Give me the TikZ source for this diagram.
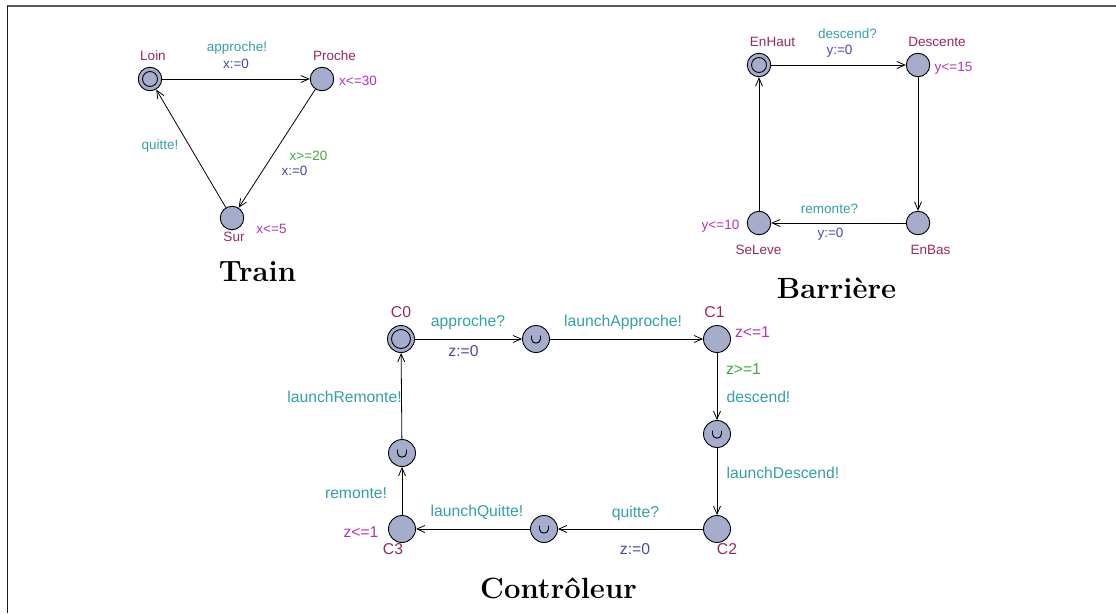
\documentclass[tikz,border=0pt]{standalone}
\usepackage{fontspec}
\setsansfont{Liberation Sans}
\usetikzlibrary{arrows.meta}
\definecolor{locfill}{RGB}{166,173,204}
\definecolor{namec}{RGB}{150,40,95}
\definecolor{syncc}{RGB}{50,160,165}
\definecolor{assc}{RGB}{70,70,180}
\definecolor{invc}{RGB}{180,50,180}
\definecolor{guardc}{RGB}{60,170,60}
\tikzset{
  locS/.style={circle, draw=black, fill=locfill, minimum size=23.5pt, inner sep=0pt, line width=0.9pt},
  locL/.style={locS, minimum size=27pt},
  trans/.style={draw=black, line width=0.8pt, -{Straight Barb[length=8pt,width=7pt]}},
  lblS/.style={font=\sffamily\fontsize{13.5}{15}\selectfont, inner sep=0pt},
  lblL/.style={font=\sffamily\fontsize{15.7}{18}\selectfont, inner sep=0pt},
  nmc/.style={text=namec}, syc/.style={text=syncc}, asc/.style={text=assc},
  ivc/.style={text=invc}, gdc/.style={text=guardc},
  ttl/.style={font=\bfseries\fontsize{29.3}{32}\selectfont, inner sep=0pt},
  inner/.style={draw=black, line width=0.9pt},
  cup/.style={draw=black, line width=0.9pt},
}
\begin{document}
\begin{tikzpicture}[x=1pt,y=-1pt]
\useasboundingbox (0,0) rectangle (1116,613);
% frame
\draw[line width=1.6pt, black!65] (7,6) -- (1116,6);
\draw[line width=1.6pt, black!90] (7.5,5.5) -- (7.5,613);

% ---------------- Train ----------------
\node[locS] (Loin) at (150,79) {};
\draw[inner] (Loin.center) circle[radius=7.5pt];
\node[locS] (Proche) at (322,79) {};
\node[locS] (Sur) at (232,218) {};
\draw[trans] (Loin) -- (Proche);
\draw[trans] (Proche) -- (Sur);
\draw[trans] (Sur) -- (Loin);
\node[lblS,nmc] (tLoin) at (153,56) {Loin};
\node[lblS,nmc] (tProche) at (334.5,56) {Proche};
\node[lblS,nmc] (tSur) at (234,237) {Sur};
\node[lblS,syc] (t1) at (237,48) {approche!};
\node[lblS,asc] (t2) at (236,64) {x:=0};
\node[lblS,ivc] (t3) at (358,81) {x<=30};
\node[lblS,syc] (t4) at (160,146) {quitte!};
\node[lblS,gdc] (t5) at (308.5,156) {x>=20};
\node[lblS,asc] (t6) at (294.5,171) {x:=0};
\node[lblS,ivc] (t7) at (271.5,229) {x<=5};
\node[ttl] (tTrain) at (257.5,272) {Train};

% ---------------- Barriere ----------------
\node[locS] (EnHaut) at (759,65) {};
\draw[inner] (EnHaut.center) circle[radius=7.5pt];
\node[locS] (Descente) at (918,65) {};
\node[locS] (EnBas) at (918,223) {};
\node[locS] (SeLeve) at (759,223) {};
\draw[trans] (EnHaut) -- (Descente);
\draw[trans] (Descente) -- (EnBas);
\draw[trans] (EnBas) -- (SeLeve);
\draw[trans] (SeLeve) -- (EnHaut);
\node[lblS,nmc] (bEnHaut) at (772.5,42) {EnHaut};
\node[lblS,nmc] (bDescente) at (937,42) {Descente};
\node[lblS,nmc] (bSeLeve) at (758.5,250) {SeLeve};
\node[lblS,nmc] (bEnBas) at (930.5,250) {EnBas};
\node[lblS,syc] (b1) at (847.5,34) {descend?};
\node[lblS,asc] (b2) at (839.5,51) {y:=0};
\node[lblS,ivc] (b3) at (953.5,68) {y<=15};
\node[lblS,syc] (b4) at (829.5,209) {remonte?};
\node[lblS,asc] (b5) at (830.5,234) {y:=0};
\node[lblS,ivc] (b6) at (720.5,226) {y<=10};
\node[ttl] (tBarr) at (836.5,288) {Barrière};

% ---------------- Controleur ----------------
\node[locL] (C0) at (401,339) {};
\draw[inner] (C0.center) circle[radius=9.5pt];
\node[locL] (A) at (536,339) {};
\node[locL] (C1) at (717,339) {};
\node[locL] (D) at (717,434) {};
\node[locL] (C2) at (717,529) {};
\node[locL] (Q) at (544,529) {};
\node[locL] (C3) at (402,529) {};
\node[locL] (R) at (402,453) {};
\foreach \n in {A,D,Q,R}{
  \draw[cup, shift={(\n.center)}] (-4.5,-3.5) -- (-4.5,0) .. controls (-4.5,5.5) and (4.5,5.5) .. (4.5,0) -- (4.5,-3.5);
}
\draw[trans] (C0) -- (A);
\draw[trans] (A) -- (C1);
\draw[trans] (C1) -- (D);
\draw[trans] (D) -- (C2);
\draw[trans] (C2) -- (Q);
\draw[trans] (Q) -- (C3);
\draw[trans] (C3) -- (R);
\draw[trans] (R) -- (C0);
\node[lblL,nmc] (cC0) at (401,312) {C0};
\node[lblL,nmc] (cC1) at (714.5,312) {C1};
\node[lblL,nmc] (cC2) at (727,549) {C2};
\node[lblL,nmc] (cC3) at (393,549) {C3};
\node[lblL,syc] (c1) at (468,322) {approche?};
\node[lblL,asc] (c2) at (463.5,351) {z:=0};
\node[lblL,syc] (c3) at (623,322) {launchApproche!};
\node[lblL,ivc] (c4) at (752.5,332) {z<=1};
\node[lblL,gdc] (c5) at (743.5,369) {z>=1};
\node[lblL,syc] (c6) at (758.5,397) {descend!};
\node[lblL,syc] (c7) at (783,473) {launchDescend!};
\node[lblL,syc] (c8) at (635.5,513) {quitte?};
\node[lblL,asc] (c9) at (635,549) {z:=0};
\node[lblL,syc] (c10) at (477,512) {launchQuitte!};
\node[lblL,ivc] (c11) at (361,532) {z<=1};
\node[lblL,syc] (c12) at (356,493) {remonte!};
\node[lblL,syc] (c13) at (344.5,397) {launchRemonte!};
\node[ttl] (tCtrl) at (558.5,588) {Contrôleur};
\end{tikzpicture}
\end{document}
